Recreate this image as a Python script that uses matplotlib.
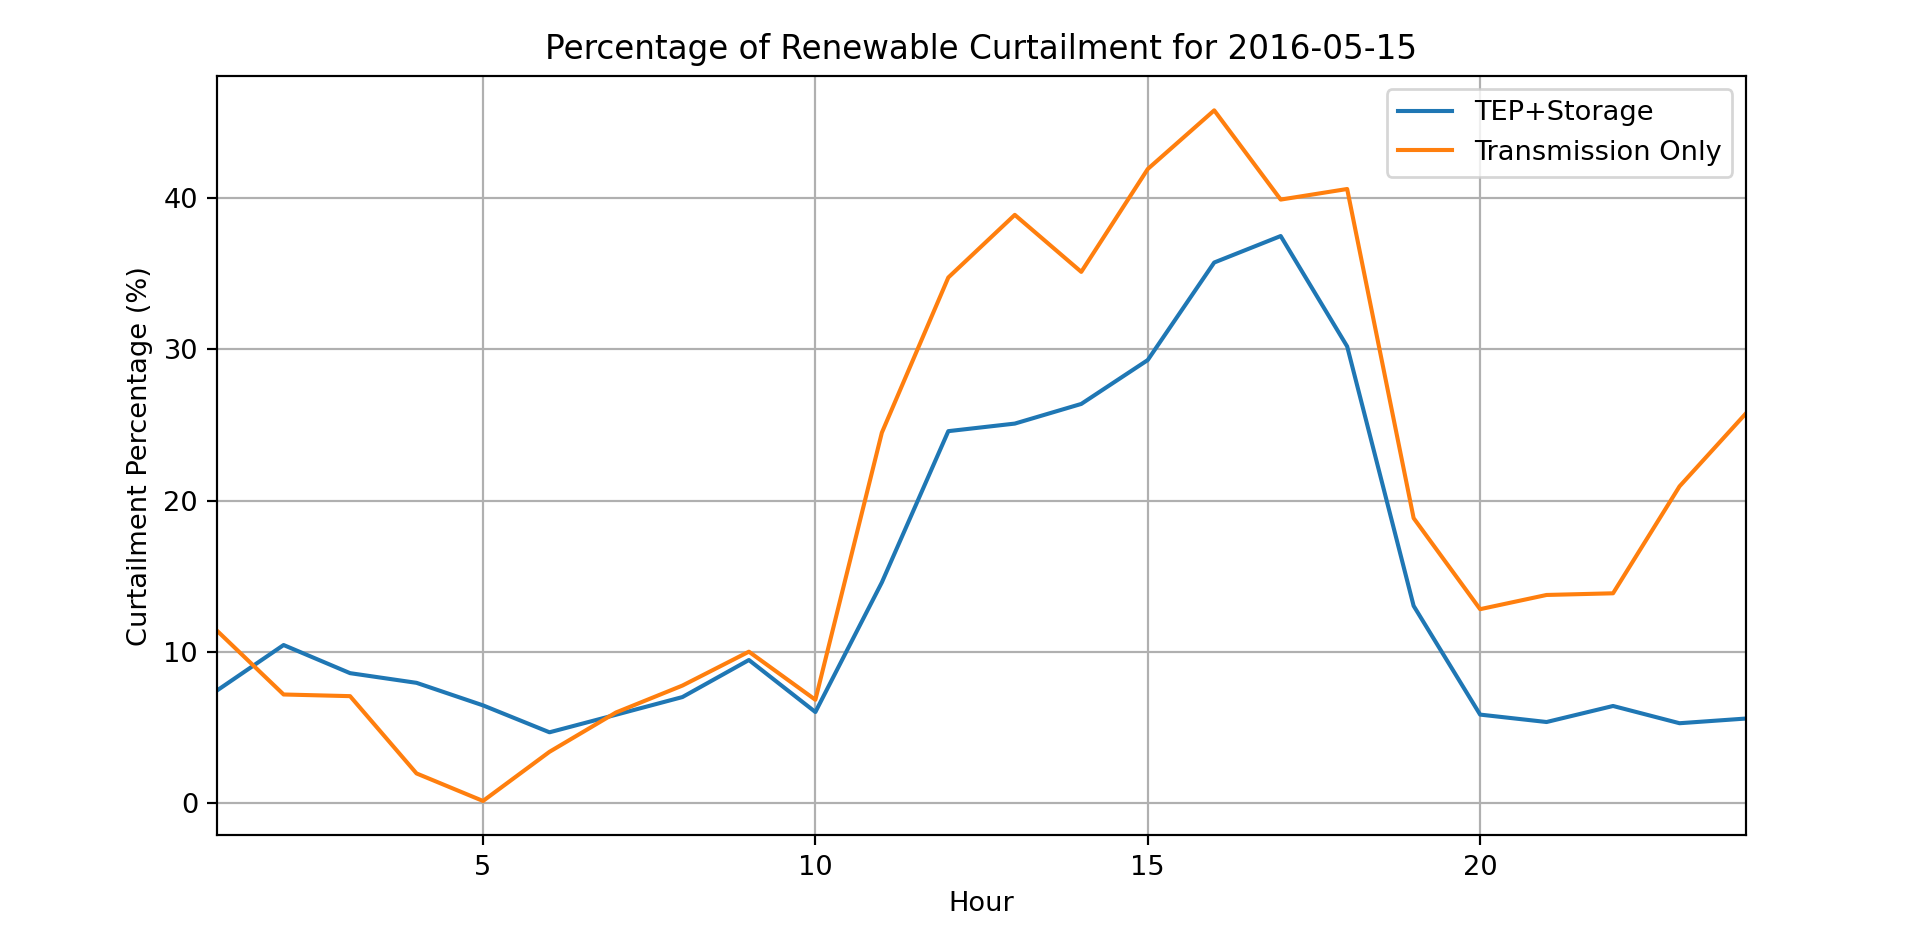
import numpy as np
import matplotlib.pyplot as plt

# -------------------------------
# Hourly curtailment data
# -------------------------------
hours = np.arange(1, 25)

tep_storage = [7.46, 10.46, 8.6, 7.96, 6.47, 4.69, 5.85, 7.02, 9.47, 6.03,
               14.6, 24.6, 25.1, 26.4, 29.3, 35.75, 37.5, 30.2,
               13.05, 5.86, 5.37, 6.43, 5.29, 5.6]

transmission_only = [11.4, 7.19, 7.08, 1.97, 0.15, 3.4, 6.0, 7.78, 10.02, 6.84,
                     24.5, 34.76, 38.9, 35.13, 41.93, 45.81, 39.91, 40.61,
                     18.85, 12.83, 13.77, 13.88, 20.95, 25.78]

# -------------------------------
# Plot
# -------------------------------
dpi = 196
fig = plt.figure(figsize=(1913 / dpi, 943 / dpi), dpi=dpi)
ax = fig.add_axes([0.1135, 0.114, 0.7992, 0.8056])

ax.plot(hours, tep_storage, label="TEP+Storage")
ax.plot(hours, transmission_only, label="Transmission Only")

ax.set_xlim(1, 24)
ax.set_xlabel("Hour")
ax.set_ylabel("Curtailment Percentage (%)")
ax.set_title("Percentage of Renewable Curtailment for 2016-05-15")
ax.legend(loc="upper right")
ax.grid(True)

fig.savefig("out.png", dpi=dpi)
